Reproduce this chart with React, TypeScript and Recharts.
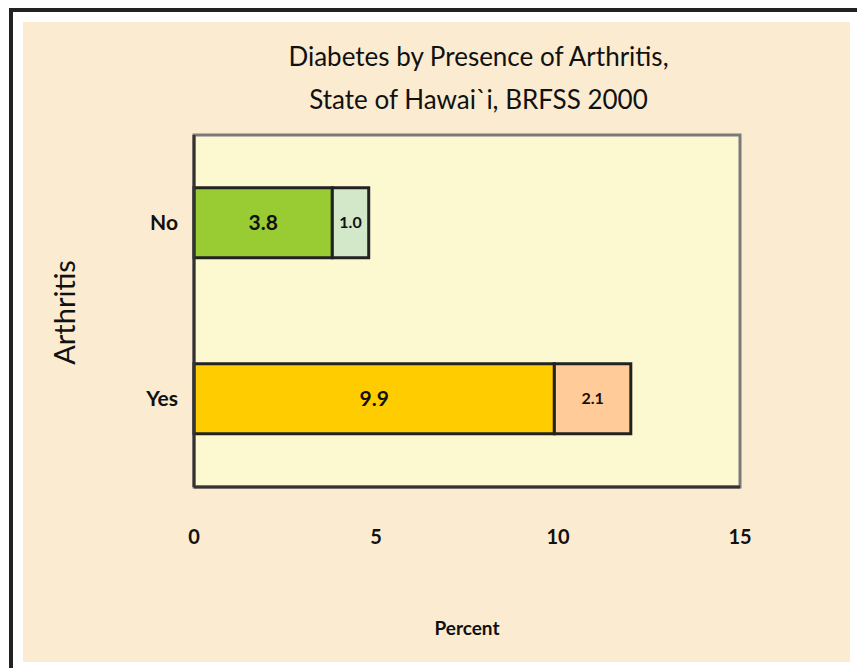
import { BarChart, Bar, XAxis, YAxis, CartesianGrid, ReferenceArea, LabelList, Cell } from 'recharts';

const categories = ['No', 'Yes'];
const diabetesValues = [3.8, 9.9];
const borderlineValues = [1.0, 2.1];
const xTicks = [0, 5, 10, 15];

const mainColors = ['#99CC33', '#FFCC00'];
const lightColors = ['#D2E8C8', '#FFCC99'];

const data = categories.map((c, i) => ({
  name: c,
  diabetes: diabetesValues[i],
  borderline: borderlineValues[i],
}));

const font = 'Lato, "Open Sans", sans-serif';

export default function App() {
  return (
    <div style={{ position: 'absolute', left: 0, top: 0, width: 857, height: 668, background: '#fff', overflow: 'hidden', fontFamily: font }}>
      <div style={{ position: 'absolute', left: 9, top: 8, width: 860, height: 680, borderLeft: '4px solid #222', borderTop: '4px solid #222' }} />
      <div style={{ position: 'absolute', left: 23, top: 22, width: 827, height: 640, background: '#FBEBD0' }} />
      <div style={{ position: 'absolute', left: 0, top: 35, width: 957, textAlign: 'center', fontSize: 26, lineHeight: '43px', color: '#111' }}>
        Diabetes by Presence of Arthritis,
        <br />
        State of Hawai`i, BRFSS 2000
      </div>
      <div style={{ position: 'absolute', left: 367, top: 616, width: 200, textAlign: 'center', fontSize: 19, fontWeight: 'bold', color: '#111' }}>
        Percent
      </div>
      <div style={{ position: 'absolute', left: -37, top: 295, width: 200, textAlign: 'center', fontSize: 29, color: '#111', transform: 'rotate(-90deg)' }}>
        Arthritis
      </div>
      <div style={{ position: 'absolute', left: 0, top: 0 }}>
        <BarChart
          width={857}
          height={668}
          data={data}
          layout="vertical"
          margin={{ top: 135, right: 117, bottom: 121, left: 114 }}
          barCategoryGap="30%"
        >
          <CartesianGrid horizontal={false} vertical={false} fill="#FCF8D0" />
          <ReferenceArea x1={0} x2={15} fill="none" stroke="#7a7a7a" strokeWidth={3} ifOverflow="visible" />
          <XAxis
            type="number"
            domain={[0, 15]}
            ticks={xTicks}
            tickLine={false}
            tickSize={0}
            tickMargin={43}
            height={60}
            axisLine={{ stroke: '#333', strokeWidth: 3 }}
            tick={{ fontSize: 20, fontWeight: 'bold', fill: '#111', fontFamily: font }}
          />
          <YAxis
            type="category"
            dataKey="name"
            width={80}
            tickLine={false}
            tickSize={0}
            tickMargin={16}
            axisLine={{ stroke: '#333', strokeWidth: 3 }}
            tick={{ fontSize: 21, fontWeight: 'bold', fill: '#111', fontFamily: font }}
          />
          <Bar dataKey="diabetes" stackId="a" stroke="#222" strokeWidth={3} isAnimationActive={false}>
            {data.map((d, i) => (
              <Cell key={d.name} fill={mainColors[i]} />
            ))}
            <LabelList dataKey="diabetes" position="center" formatter={(v: number) => v.toFixed(1)} style={{ fontSize: 21, fontWeight: 'bold', fill: '#111', fontFamily: font }} />
          </Bar>
          <Bar dataKey="borderline" stackId="a" stroke="#222" strokeWidth={3} isAnimationActive={false}>
            {data.map((d, i) => (
              <Cell key={d.name} fill={lightColors[i]} />
            ))}
            <LabelList dataKey="borderline" position="center" formatter={(v: number) => v.toFixed(1)} style={{ fontSize: 16, fontWeight: 'bold', fill: '#111', fontFamily: font }} />
          </Bar>
        </BarChart>
      </div>
    </div>
  );
}
